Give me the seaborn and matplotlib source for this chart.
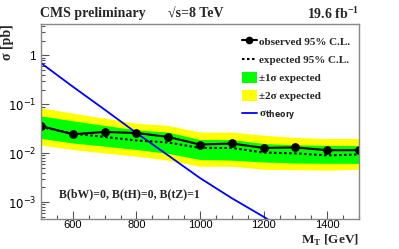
import numpy as np
import pandas as pd
import seaborn as sns
import matplotlib.pyplot as plt
from matplotlib.patches import Patch
from matplotlib.lines import Line2D
from matplotlib.ticker import FixedLocator, MultipleLocator, LogLocator, NullFormatter

# limits
mass = [500, 600, 700, 800, 900, 1000, 1100, 1200, 1300, 1400, 1500]
observed = [0.036, 0.0244, 0.0272, 0.0259, 0.0215, 0.0150, 0.0158, 0.0128, 0.0131, 0.0115, 0.0115]
expected = [0.0345, 0.0252, 0.0215, 0.0182, 0.0165, 0.0128, 0.0128, 0.0103, 0.0099, 0.0090, 0.0094]
one_sig_hi = [0.058, 0.046, 0.037, 0.030, 0.027, 0.019, 0.019, 0.0158, 0.0148, 0.0145, 0.0142]
one_sig_lo = [0.020, 0.0162, 0.0139, 0.0119, 0.0099, 0.0074, 0.0072, 0.0066, 0.0063, 0.0062, 0.0062]
two_sig_hi = [0.085, 0.066, 0.052, 0.041, 0.037, 0.027, 0.027, 0.0233, 0.021, 0.020, 0.020]
two_sig_lo = [0.0146, 0.0119, 0.0101, 0.0087, 0.0072, 0.0054, 0.0054, 0.0047, 0.0046, 0.0045, 0.0047]

theory_mass = [500, 600, 700, 800, 900, 1000, 1100, 1200, 1300]
theory_xsec = [0.70, 0.23, 0.078, 0.026, 0.009, 0.0031, 0.0012, 0.0005, 0.0002]

df = pd.DataFrame({"mass": mass, "observed": observed, "expected": expected})
th = pd.DataFrame({"mass": theory_mass, "xsec": theory_xsec})

sns.set_style("ticks")
plt.rcParams['font.family'] = ['Liberation Sans', 'DejaVu Sans']
serif = ['Liberation Serif', 'DejaVu Serif']

fig = plt.figure(figsize=(3.99, 2.49), dpi=100)
ax = fig.add_axes([41/399, 1 - 219/249, (359 - 41)/399, (219 - 24)/249])

ax.fill_between(mass, two_sig_lo, two_sig_hi, color='#ffff00', lw=0)
ax.fill_between(mass, one_sig_lo, one_sig_hi, color='#00ff00', lw=0)
sns.lineplot(data=th, x='mass', y='xsec', ax=ax, color='#0000ff', lw=1.3)
sns.lineplot(data=df, x='mass', y='expected', ax=ax, color='black', lw=1.5, linestyle=(0, (1.2, 1.2)))
sns.lineplot(data=df, x='mass', y='observed', ax=ax, color='black', lw=1.5,
             marker='o', markersize=5.5, markeredgecolor='black')

ax.set_yscale('log')
ax.set_xlim(500, 1500)
ax.set_ylim(4.5e-4, 4.4)

ax.xaxis.set_major_locator(FixedLocator([600, 800, 1000, 1200, 1400]))
ax.xaxis.set_minor_locator(MultipleLocator(50))
ax.yaxis.set_major_locator(FixedLocator([1e-3, 1e-2, 1e-1, 1]))
ax.yaxis.set_minor_locator(LogLocator(base=10, subs=np.arange(2, 10)))
ax.yaxis.set_minor_formatter(NullFormatter())
ax.set_yticklabels(['$10^{-3}$', '$10^{-2}$', '$10^{-1}$', '1'])
ax.tick_params(which='both', direction='in', colors='#555555', labelcolor='black', labelsize=8.5, width=0.8)
ax.tick_params(which='major', length=6)
ax.tick_params(which='minor', length=3)
ax.tick_params(axis='x', pad=1, labelsize=8)
for s in ax.spines.values():
    s.set_color('#888888')
    s.set_linewidth(1.0)

ax.set_xlabel('')
ax.set_ylabel('')
fig.text(359/399, 1/249, r'M$_\mathregular{T}$ [GeV]', ha='right', va='bottom',
         family=serif, fontweight='bold', fontsize=9.5)
fig.text(8/399, 1 - 24/249, r'σ [pb]', ha='center', va='top', rotation=90,
         family=serif, fontweight='bold', fontsize=10)

fig.text(40/399, 1 - 14/249, 'CMS preliminary', ha='left', va='center',
         family=serif, fontweight='bold', fontsize=10)
fig.text(196/399, 1 - 14/249, '√s=8 TeV', ha='center', va='center',
         family=serif, fontweight='bold', fontsize=10)
fig.text(359/399, 1 - 14/249, r'19.6 fb$^{\mathregular{-1}}$', ha='right', va='center',
         family=serif, fontweight='bold', fontsize=10)

ax.text(0.057, 0.125, 'B(bW)=0, B(tH)=0, B(tZ)=1', transform=ax.transAxes,
        family=serif, fontweight='bold', fontsize=8.5, va='center')

handles = [
    Line2D([], [], color='black', lw=1.5, marker='o', markersize=4.5),
    Line2D([], [], color='black', lw=1.5, linestyle=(0, (1.2, 1.2))),
    Patch(facecolor='#00ff00', edgecolor='none'),
    Patch(facecolor='#ffff00', edgecolor='none'),
    Line2D([], [], color='#0000ff', lw=1.3),
]
labels = ['observed 95% C.L.', 'expected 95% C.L.', '±1σ expected', '±2σ expected',
          r'σ$_\mathbf{theory}$']
ax.legend(handles, labels, loc='upper left', bbox_to_anchor=(0.632, 0.94), frameon=False,
          prop={'family': serif, 'weight': 'bold', 'size': 8}, handlelength=1.35,
          handleheight=1.2, handletextpad=0.15, labelspacing=0.6, borderaxespad=0,
          borderpad=0)

fig.savefig('out.png', dpi=100)
